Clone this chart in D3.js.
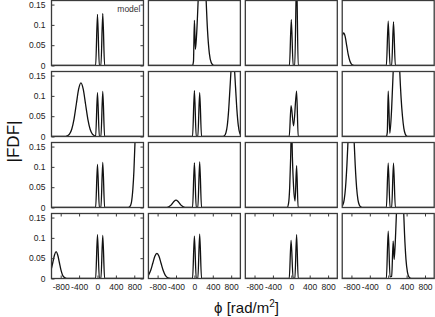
<!DOCTYPE html>
<html>
<head>
  <script src="https://d3js.org/d3.v7.min.js"></script>
  <style>
    body { margin: 0; background: #fff; }
    svg { display: block; font-family: "Liberation Sans", Arial, sans-serif; }
    .frame { fill: none; stroke: #3a3a3a; stroke-width: 1.3; }
    .curve { fill: none; stroke: #111; stroke-width: 1.3; }
    .tick line { stroke: #3a3a3a; stroke-width: 1; }
    .tick text { font-size: 8.5px; fill: #222; }
    .axis-title { fill: #111; }
  </style>
</head>
<body>
  <div id="chart"></div>

  <script>
    // axes
    var phiTicks = [-800, -400, 0, 400, 800];
    var fdfTicks = [0, 0.05, 0.1, 0.15];

    // |FDF| traces, [phi, value] (row by row)
    var p11 = [[-1000, 0], [-40, 0], [0, 0.126], [40, 0], [75, 0], [115, 0.128], [155, 0], [1000, 0]];
    var p12 = [[-1000, 0], [-40, 0], [-20, 0.01], [0, 0.111], [22, 0.04], [45, 0.07], [85, 0.17], [125, 0.30], [165, 0.35], [205, 0.30], [245, 0.189], [285, 0.087], [325, 0.030], [365, 0.0074], [405, 0.0013], [450, 0], [1000, 0]];
    var p13 = [[-1000, 0], [-40, 0], [0, 0.113], [40, 0], [75, 0], [115, 0.22], [150, 0], [1000, 0]];
    var p14 = [[-1000, 0.073], [-970, 0.08], [-936, 0.071], [-902, 0.0485], [-868, 0.026], [-834, 0.011], [-800, 0.0035], [-766, 0.001], [-730, 0], [-40, 0], [0, 0.109], [40, 0], [75, 0], [115, 0.1075], [155, 0], [1000, 0]];

    var p21 = [[-1000, 0], [-710, 0], [-660, 0.0015], [-610, 0.0058], [-560, 0.0179], [-510, 0.0429], [-460, 0.080], [-410, 0.1165], [-360, 0.132], [-310, 0.1165], [-260, 0.080], [-210, 0.0429], [-160, 0.0179], [-110, 0.0058], [-60, 0.0015], [-40, 0], [0, 0.108], [40, 0], [75, 0], [115, 0.111], [155, 0], [1000, 0]];
    var p22 = [[-1000, 0], [-40, 0], [0, 0.113], [40, 0], [75, 0], [115, 0.108], [155, 0], [600, 0], [625, 0.0004], [655, 0.0022], [685, 0.0088], [715, 0.027], [745, 0.065], [775, 0.121], [805, 0.1765], [835, 0.2], [865, 0.1765], [895, 0.121], [925, 0.065], [955, 0.027], [985, 0.0088], [1000, 0.005]];
    var p23 = [[-1000, 0], [-45, 0], [-5, 0.076], [50, 0.026], [115, 0.1115], [150, 0], [1000, 0]];
    var p24 = [[-1000, 0], [-40, 0], [-20, 0.01], [0, 0.1115], [35, 0.008], [75, 0.07], [108, 0.16], [140, 0.26], [180, 0.3], [220, 0.26], [251, 0.16], [280, 0.095], [310, 0.05], [340, 0.02], [370, 0.006], [400, 0.001], [430, 0], [1000, 0]];

    var p31 = [[-1000, 0], [-40, 0], [0, 0.106], [40, 0], [75, 0], [115, 0.111], [155, 0], [650, 0], [700, 0.002], [735, 0.011], [771, 0.048], [792, 0.089], [814, 0.155], [840, 0.25], [880, 0.4], [1000, 0.5]];
    var p32 = [[-1000, 0], [-640, 0], [-600, 0.0004], [-560, 0.0016], [-520, 0.0047], [-480, 0.0099], [-440, 0.0155], [-400, 0.018], [-360, 0.0155], [-320, 0.0099], [-280, 0.0047], [-240, 0.0016], [-200, 0.0004], [-160, 0], [-40, 0], [0, 0.11], [40, 0], [75, 0], [115, 0.112], [155, 0], [1000, 0]];
    var p33 = [[-1000, 0], [-90, 0], [-60, 0.01], [-35, 0.05], [-15, 0.12], [5, 0.21], [25, 0.12], [50, 0.05], [82, 0.016], [115, 0.103], [148, 0], [1000, 0]];
    var p34 = [[-1000, 0.0035], [-988, 0.006], [-958, 0.019], [-928, 0.050], [-898, 0.105], [-868, 0.18], [-838, 0.247], [-808, 0.275], [-778, 0.247], [-748, 0.18], [-718, 0.105], [-688, 0.050], [-658, 0.019], [-628, 0.006], [-598, 0.0015], [-568, 0.0003], [-540, 0], [-40, 0], [0, 0.109], [40, 0], [75, 0], [115, 0.109], [155, 0], [1000, 0]];

    var p41 = [[-1000, 0.025], [-970, 0.040], [-935, 0.058], [-900, 0.066], [-865, 0.058], [-830, 0.040], [-795, 0.0214], [-760, 0.0089], [-725, 0.0029], [-690, 0.0007], [-655, 0], [-40, 0], [0, 0.108], [40, 0], [75, 0], [115, 0.106], [155, 0], [1000, 0]];
    var p42 = [[-1000, 0.0075], [-950, 0.0201], [-905, 0.0376], [-860, 0.0547], [-815, 0.062], [-770, 0.0547], [-725, 0.0376], [-680, 0.0201], [-635, 0.0084], [-590, 0.0027], [-545, 0.0007], [-500, 0], [-40, 0], [0, 0.104], [40, 0], [75, 0], [115, 0.109], [155, 0], [1000, 0]];
    var p43 = [[-1000, 0], [-45, 0], [-5, 0.0935], [40, 0], [78, 0], [115, 0.108], [150, 0], [1000, 0]];
    var p44 = [[-1000, 0], [-40, 0], [0, 0.1165], [40, 0.004], [75, 0.005], [108, 0.092], [130, 0.047], [162, 0.112], [194, 0.206], [226, 0.30], [258, 0.34], [290, 0.30], [322, 0.206], [354, 0.112], [386, 0.047], [418, 0.0155], [450, 0.004], [482, 0.0008], [520, 0], [1000, 0]];

    var panels = [p11, p12, p13, p14, p21, p22, p23, p24, p31, p32, p33, p34, p41, p42, p43, p44];

    var width = 435, height = 317;

    var col = d3.scaleBand().domain([0, 1, 2, 3]).range([51.5, 434.2]).paddingInner(0.051);
    var row = d3.scaleBand().domain([0, 1, 2, 3]).range([0.5, 278.5]).paddingInner(0.0845);

    var x = d3.scaleLinear().domain([-1000, 1000]).range([0, col.bandwidth()]);
    var y = d3.scaleLinear().domain([0, 0.16]).range([row.bandwidth(), 0]);

    var line = d3.line()
      .x(function(d) { return x(d[0]); })
      .y(function(d) { return y(d[1]); })
      .curve(d3.curveMonotoneX);

    var svg = d3.select("#chart")
      .append("svg")
      .attr("width", width)
      .attr("height", height);

    panels.forEach(function(data, i) {
      var r = Math.floor(i / 4), c = i % 4;
      var g = svg.append("g")
        .attr("transform", "translate(" + col(c) + "," + row(r) + ")");

      g.append("clipPath")
        .attr("id", "clip" + i)
        .append("rect")
        .attr("width", col.bandwidth())
        .attr("height", row.bandwidth());

      g.append("path")
        .datum(data)
        .attr("class", "curve")
        .attr("clip-path", "url(#clip" + i + ")")
        .attr("d", line);

      if (c == 0) {
        g.append("g")
          .call(d3.axisLeft(y).tickValues(fdfTicks).tickSize(-3).tickPadding(6)
            .tickFormat(function(d) { return String(d); }))
          .call(function(a) { a.select(".domain").remove(); });
        g.append("g")
          .attr("transform", "translate(" + col.bandwidth() + ",0)")
          .call(d3.axisRight(y).tickValues(fdfTicks).tickSize(-3).tickFormat(""))
          .call(function(a) { a.select(".domain").remove(); });
      }

      if (r == 3) {
        g.append("g")
          .attr("transform", "translate(0," + row.bandwidth() + ")")
          .call(d3.axisBottom(x).tickValues(phiTicks).tickSize(-3).tickPadding(5.5)
            .tickFormat(function(d) { return String(d); }))
          .call(function(a) { a.select(".domain").remove(); });
        g.append("g")
          .call(d3.axisTop(x).tickValues(phiTicks).tickSize(-3).tickFormat(""))
          .call(function(a) { a.select(".domain").remove(); });
      }

      g.append("rect")
        .attr("class", "frame")
        .attr("width", col.bandwidth())
        .attr("height", row.bandwidth());

      if (i == 0) {
        g.append("text")
          .attr("x", col.bandwidth() - 3)
          .attr("y", 11.5)
          .attr("text-anchor", "end")
          .attr("font-size", "8.5px")
          .attr("fill", "#333")
          .text("model");
      }
    });

    svg.append("text")
      .attr("class", "axis-title")
      .attr("transform", "translate(18.5,141.5) rotate(-90)")
      .attr("text-anchor", "middle")
      .attr("font-size", "17px")
      .text("|FDF|");

    var xt = svg.append("text")
      .attr("class", "axis-title")
      .attr("x", 246.5)
      .attr("y", 312.5)
      .attr("text-anchor", "middle")
      .attr("font-size", "15px");
    xt.append("tspan").text("ϕ [rad/m");
    xt.append("tspan").attr("font-size", "10px").attr("dy", -6).text("2");
    xt.append("tspan").attr("dy", 6).text("]");
  </script>
</body>
</html>
